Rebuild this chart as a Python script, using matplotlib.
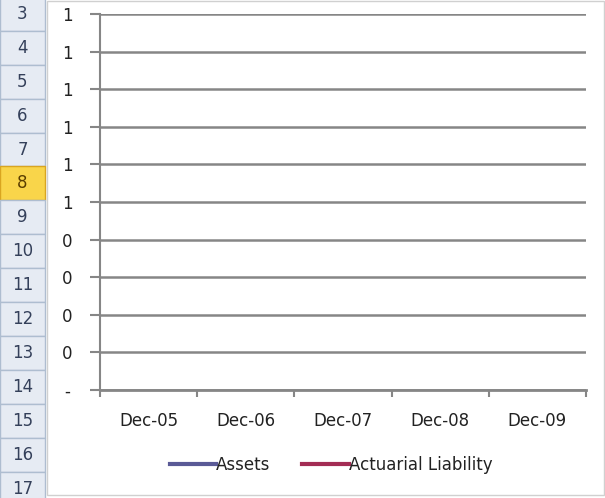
import numpy as np
import matplotlib
matplotlib.use('Agg')
import matplotlib.pyplot as plt
from matplotlib.patches import Rectangle

# data (the series are empty in the sheet)
categories = ['Dec-05', 'Dec-06', 'Dec-07', 'Dec-08', 'Dec-09']
assets = [np.nan, np.nan, np.nan, np.nan, np.nan]
liability = [np.nan, np.nan, np.nan, np.nan, np.nan]
y_ticks = [0, 0.1, 0.2, 0.3, 0.4, 0.5, 0.6, 0.7, 0.8, 0.9, 1.0]
y_labels = ['-', '0', '0', '0', '0', '1', '1', '1', '1', '1', '1']
row_numbers = list(range(3, 18))
selected_row = 8

W, H = 605, 498
fig = plt.figure(figsize=(W / 100, H / 100), dpi=100)
fig.patch.set_facecolor('white')

# excel row headers on the left
hdr_w = 45
row_h = 33.9
top0 = -3
for i, r in enumerate(row_numbers):
    y0 = top0 + i * row_h
    if r == selected_row:
        fc, ec, tc = '#f9d54a', '#d9a520', '#5a3e00'
    else:
        fc, ec, tc = '#e6ebf3', '#aebdd0', '#34405a'
    fig.patches.append(Rectangle((0, 1 - (y0 + row_h) / H), hdr_w / W, row_h / H,
                                 transform=fig.transFigure, facecolor=fc,
                                 edgecolor=ec, linewidth=1, zorder=1))
    fig.text(hdr_w / 2 / W, 1 - (y0 + row_h / 2) / H, str(r), ha='center', va='center',
             fontsize=12, color=tc)

# chart area border
fig.patches.append(Rectangle((47 / W, 1 - 495 / H), (W - 48) / W, 494 / H,
                             transform=fig.transFigure, facecolor='white',
                             edgecolor='#d0d0d0', linewidth=1, zorder=-1))

ax = fig.add_axes([100 / W, 1 - 390 / H, 486 / W, 376 / H], zorder=2)
ax.patch.set_alpha(0)
x = np.arange(len(categories))
ax.plot(x, assets, color='#5a5a96', linewidth=3, label='Assets')
ax.plot(x, liability, color='#a32c54', linewidth=3, label='Actuarial Liability')

ax.set_xlim(-0.5, len(categories) - 0.5)
ax.set_ylim(0, 1)
ax.set_yticks(y_ticks)
ax.set_yticklabels(y_labels)
ax.set_xticks(x)
ax.set_xticklabels(categories)
ax.set_xticks(np.arange(-0.5, len(categories), 1), minor=True)
ax.tick_params(axis='x', which='major', length=0, pad=16, labelsize=12, labelcolor='#222222')
ax.tick_params(axis='x', which='minor', length=5, width=1.5, color='#868686', direction='out')
ax.tick_params(axis='y', length=7, width=1.5, color='#868686', pad=16.5, labelsize=12,
               labelcolor='#222222')
for lbl in ax.get_yticklabels():
    lbl.set_horizontalalignment('center')

ax.grid(axis='y', color='#868686', linewidth=1.8)
ax.set_axisbelow(True)
for side in ['top', 'right']:
    ax.spines[side].set_visible(False)
ax.spines['left'].set_color('#868686')
ax.spines['left'].set_linewidth(1.5)
ax.spines['bottom'].set_color('#868686')
ax.spines['bottom'].set_linewidth(2)

fig.legend(loc='center', bbox_to_anchor=(331 / W, 1 - 465 / H), ncol=2, frameon=False,
           handlelength=2.8, handletextpad=0.0, columnspacing=1.9, fontsize=12,
           labelcolor='#222222')

fig.savefig('out.png', dpi=100)
